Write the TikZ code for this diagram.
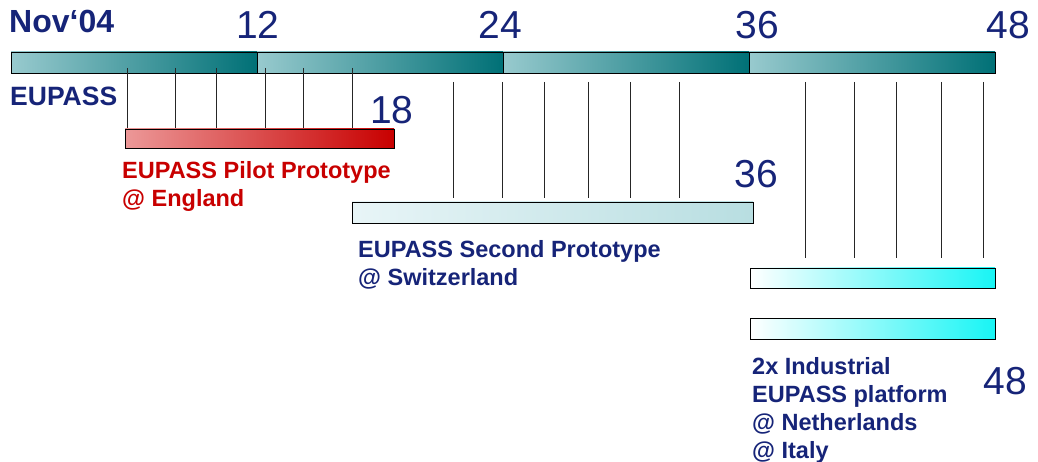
\documentclass[tikz,border=0pt]{standalone}
\usepackage{fontspec}
\setmainfont{Liberation Sans}
\begin{document}
\definecolor{navy}{RGB}{22,36,120}
\definecolor{redtxt}{RGB}{200,0,0}
\definecolor{tealL}{RGB}{152,202,206}
\definecolor{tealD}{RGB}{0,112,118}
\definecolor{redL}{RGB}{236,152,152}
\definecolor{redD}{RGB}{200,0,0}
\definecolor{paleL}{RGB}{232,245,247}
\definecolor{paleD}{RGB}{184,222,225}
\definecolor{cyanD}{RGB}{24,245,245}
\begin{tikzpicture}[x=1pt,y=-1pt,
  bar/.style={draw=black,line width=0.9pt,shading=axis,shading angle=90},
  tick/.style={draw=black!85,line width=1pt},
  month/.style={font=\fontsize{39}{39}\selectfont,text=navy,inner sep=0pt,anchor=base},
  tasktext/.style={font=\fontsize{23.5}{28}\selectfont\bfseries,inner sep=0pt,anchor=base west,align=left}]
\useasboundingbox (0,0) rectangle (1038,462);

% main timeline, four 12-month segments
\foreach \a/\b in {11/257,257/503,503/749,749/995}
  \shade[bar,left color=tealL,right color=tealD] (\a,52) rectangle (\b,73);
\node[font=\fontsize{32}{32}\selectfont\bfseries,text=navy,inner sep=0pt,anchor=base west] (start) at (9,33) {Nov‘04};
\node[month] (m12) at (258,39) {12};
\node[month] (m24) at (500,39) {24};
\node[month] (m36) at (757,39) {36};
\node[month] (m48) at (1008,39) {48};
\node[font=\fontsize{26.5}{26.5}\selectfont\bfseries,text=navy,inner sep=0pt,anchor=base west] (eupass) at (10,106) {EUPASS};

% pilot prototype (base anchor sits on the last line)
\foreach \x in {127,175,216,265,303,352}
  \draw[tick] (\x,68) -- (\x,136);
\shade[bar,left color=redL,right color=redD] (125,129) rectangle (394,148);
\node[month] (m18) at (392,124) {18};
\node[tasktext,text=redtxt] (pilot) at (122,207) {EUPASS Pilot Prototype\\@ England};

% second prototype
\foreach \x in {453,502,544,588,630,679}
  \draw[tick] (\x,82) -- (\x,198);
\shade[bar,left color=paleL,right color=paleD] (352,202) rectangle (753,223);
\node[month] (m36b) at (756,188) {36};
\node[tasktext,text=navy] (second) at (358,285) {EUPASS Second Prototype\\@ Switzerland};

% industrial platforms
\foreach \x in {805,854,896,941,983}
  \draw[tick] (\x,82) -- (\x,258);
\shade[bar,left color=white,right color=cyanD] (750,268) rectangle (995,288);
\shade[bar,left color=white,right color=cyanD] (750,318) rectangle (995,339);
\node[tasktext,text=navy] (industrial) at (752,458) {2x Industrial\\EUPASS platform\\@ Netherlands\\@ Italy};
\node[month] (m48b) at (1005,394) {48};
\end{tikzpicture}
\end{document}
